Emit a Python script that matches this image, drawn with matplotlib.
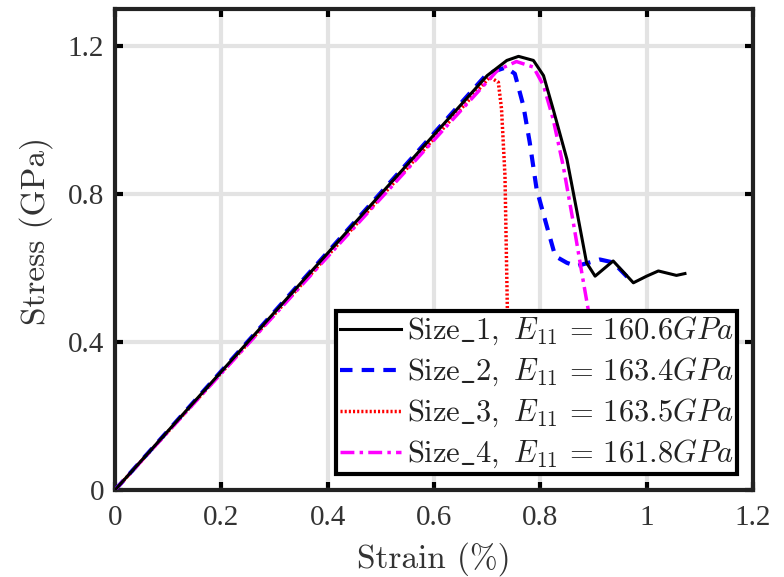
import matplotlib
matplotlib.use("Agg")
import matplotlib.pyplot as plt

plt.rcParams['mathtext.fontset'] = 'cm'
plt.rcParams['font.family'] = ['Liberation Serif', 'DejaVu Serif']

# Data (strain %, stress GPa)
s1_x = [0.0, 0.70, 0.737, 0.759, 0.787, 0.806, 0.824, 0.850, 0.868, 0.887, 0.903, 0.937, 0.975, 1.0, 1.022, 1.056, 1.072]
s1_y = [0.0, 1.120, 1.161, 1.172, 1.161, 1.120, 1.030, 0.894, 0.759, 0.614, 0.578, 0.619, 0.560, 0.578, 0.592, 0.580, 0.585]

s2_x = [0.0, 0.70, 0.735, 0.752, 0.768, 0.780, 0.793, 0.812, 0.828, 0.850, 0.868, 0.912, 0.937, 0.962, 0.978]
s2_y = [0.0, 1.125, 1.142, 1.125, 1.039, 0.940, 0.813, 0.714, 0.632, 0.614, 0.605, 0.623, 0.615, 0.578, 0.564]

s3_x = [0.0, 0.705, 0.721, 0.727, 0.7335, 0.738, 0.742]
s3_y = [0.0, 1.116, 1.102, 1.030, 0.849, 0.488, 0.10]

s4_x = [0.0, 0.72, 0.755, 0.787, 0.806, 0.824, 0.843, 0.862, 0.878, 0.890, 0.91]
s4_y = [0.0, 1.135, 1.158, 1.143, 1.093, 1.003, 0.876, 0.723, 0.587, 0.488, 0.30]

labels = [r'$\mathrm{Size\_1,}\ E_{11}\,=\,160.6GPa$',
          r'$\mathrm{Size\_2,}\ E_{11}\,=\,163.4GPa$',
          r'$\mathrm{Size\_3,}\ E_{11}\,=\,163.5GPa$',
          r'$\mathrm{Size\_4,}\ E_{11}\,=\,161.8GPa$']

xticks = [0, 0.2, 0.4, 0.6, 0.8, 1.0, 1.2]
xticklabels = ['0', '0.2', '0.4', '0.6', '0.8', '1', '1.2']
yticks = [0, 0.4, 0.8, 1.2]
yticklabels = ['0', '0.4', '0.8', '1.2']

fig = plt.figure(figsize=(7.84, 5.77), dpi=100)
ax = fig.add_axes([115/784, 1 - 490/577, (753 - 115)/784, (490 - 9)/577])

ax.plot(s1_x, s1_y, color='black', lw=2.2, ls='-', label=labels[0], zorder=5)
ax.plot(s2_x, s2_y, color='blue', lw=3, ls=(0, (3, 2.2)), label=labels[1], zorder=4)
ax.plot(s3_x, s3_y, color='red', lw=2.5, ls=(0, (0.6, 0.6)), label=labels[2], zorder=3)
ax.plot(s4_x, s4_y, color='magenta', lw=2.5, ls=(0, (4, 1.5, 1, 1.5)), label=labels[3], zorder=4)

ax.set_xlim(0, 1.2)
ax.set_ylim(0, 1.3)
ax.set_xticks(xticks)
ax.set_xticklabels(xticklabels)
ax.set_yticks(yticks)
ax.set_yticklabels(yticklabels)
ax.grid(True, color='#e3e3e3', lw=3)
ax.set_axisbelow(True)
ax.tick_params(direction='in', length=6, width=3, top=True, right=True,
               labelsize=21, labelcolor='#333333')
ax.tick_params(axis='x', pad=11)
ax.tick_params(axis='y', pad=8)
for sp in ax.spines.values():
    sp.set_linewidth(3)
    sp.set_color('#222222')

ax.set_xlabel('Strain (%)', fontsize=24, color='#333333', family='cmr10')
ax.set_ylabel('Stress (GPa)', fontsize=24, color='#333333', family='cmr10')
ax.xaxis.set_label_coords(0.5, -(542 - 490) / 481)
ax.xaxis.label.set_va('top')
ax.yaxis.set_label_coords((53 - 115) / 638, (490 - 231) / 481)

leg = ax.legend(loc='lower right', fontsize=22, frameon=True, fancybox=False,
                edgecolor='black', framealpha=1, handlelength=2.0,
                handletextpad=0.2, borderpad=0.12, labelspacing=0.28,
                borderaxespad=0.52)
leg.get_frame().set_linewidth(3)
for t in leg.get_texts():
    t.set_color('#222222')

fig.savefig('out.png', dpi=100)
